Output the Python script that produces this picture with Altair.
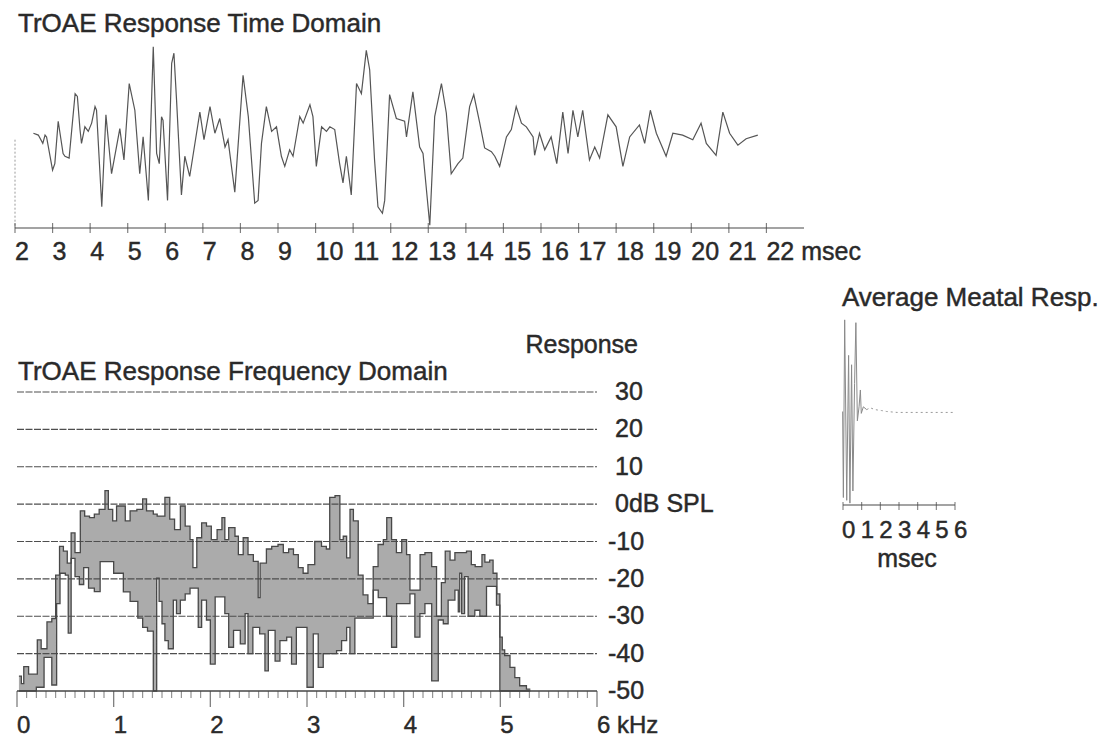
import altair as alt
import pandas as pd

FONT = "Liberation Sans"
INK = "#2a2a2a"
LINE = "#484848"

# ---- TrOAE response, time domain (ms, normalised amplitude) ----
time_ms = [2.49, 2.62, 2.74, 2.80, 2.84, 3.00, 3.06, 3.15, 3.28, 3.33, 3.44, 3.60, 3.66, 3.73,
           3.77, 3.86, 3.95, 4.04, 4.13, 4.17, 4.31, 4.42, 4.57, 4.79, 4.90, 5.04, 5.19, 5.32,
           5.41, 5.55, 5.68, 5.77, 5.84, 5.90, 5.94, 6.06, 6.17, 6.23, 6.30, 6.43, 6.52, 6.65,
           6.92, 7.03, 7.19, 7.32, 7.45, 7.59, 7.67, 7.85, 8.07, 8.21, 8.38, 8.47, 8.56, 8.69,
           8.83, 8.96, 9.09, 9.18, 9.31, 9.40, 9.58, 9.67, 9.85, 9.93, 10.02, 10.16, 10.29,
           10.38, 10.51, 10.64, 10.73, 10.82, 10.95, 11.09, 11.22, 11.35, 11.44, 11.57, 11.66,
           11.78, 11.84, 11.97, 12.15, 12.37, 12.42, 12.59, 12.77, 12.86, 13.04, 13.17, 13.35,
           13.48, 13.61, 13.79, 13.92, 14.10, 14.21, 14.37, 14.50, 14.68, 14.77, 14.90, 15.08,
           15.21, 15.34, 15.48, 15.61, 15.79, 15.83, 15.96, 16.10, 16.27, 16.42, 16.58, 16.72,
           16.85, 16.98, 17.11, 17.29, 17.43, 17.56, 17.78, 18.00, 18.18, 18.36, 18.62, 18.76,
           18.91, 19.07, 19.33, 19.51, 19.77, 20.04, 20.26, 20.40, 20.66, 20.84, 21.02, 21.24,
           21.46, 21.77]
time_amp = [0.03, 0.01, -0.08, 0.01, -0.01, -0.37, -0.30, 0.16, -0.19, -0.22, -0.24, 0.46, 0.43,
            0.07, -0.08, 0.10, 0.05, 0.14, 0.32, 0.28, -0.77, 0.23, -0.41, 0.08, -0.26, 0.57,
            0.28, -0.41, -0.01, -0.70, 0.97, -0.19, -0.30, 0.21, 0.17, -0.70, 0.79, 0.90, 0.39,
            -0.64, -0.22, -0.44, 0.26, -0.04, 0.32, 0.03, 0.19, -0.12, -0.04, -0.61, 0.66, 0.21,
            -0.73, -0.70, -0.08, 0.32, 0.05, 0.10, -0.22, -0.33, -0.15, -0.22, 0.21, 0.14, 0.34,
            0.21, -0.33, 0.10, 0.05, 0.10, 0.07, -0.30, -0.51, -0.22, -0.64, 0.57, 0.46, 0.93,
            0.72, -0.26, -0.77, -0.84, -0.70, 0.45, 0.19, 0.16, -0.01, 0.48, -0.12, -0.19, -0.97,
            0.21, 0.57, 0.25, -0.41, -0.30, -0.24, 0.32, 0.45, 0.14, -0.13, -0.17, -0.22, -0.33,
            -0.01, 0.07, 0.32, 0.14, 0.10, -0.01, -0.21, 0.03, -0.15, -0.01, -0.30, 0.26, -0.19,
            0.28, -0.01, 0.28, -0.26, -0.12, -0.24, 0.23, 0.10, -0.33, -0.01, 0.12, -0.08, 0.28,
            0.03, -0.22, 0.03, 0.01, -0.04, 0.14, -0.08, -0.21, 0.26, 0.03, -0.10, -0.03, 0.01]
time_ticks = list(range(2, 23))

# ---- TrOAE response, frequency domain: stepped envelopes (kHz, dB SPL) ----
upper_steps = [(0.02, -46), (0.045, -48), (0.07, -43.5), (0.12, -45.5), (0.21, -36.3),
               (0.25, -38.7), (0.31, -31.5), (0.36, -30.6), (0.40, -19), (0.44, -11.3),
               (0.48, -12.6), (0.52, -15.8), (0.56, -7.7), (0.60, -13), (0.655, -1.8),
               (0.70, -3.2), (0.75, -3.6), (0.80, -2.7), (0.85, -1.4), (0.91, 3.6),
               (0.945, -1.4), (0.99, -4.5), (1.03, -0.5), (1.12, -4.5), (1.17, -1.8),
               (1.24, -1.4), (1.30, 1.4), (1.34, -1.8), (1.41, -2.7), (1.45, -3.2),
               (1.53, 1.8), (1.58, -4), (1.63, -6.8), (1.69, -0.5), (1.74, -5.9), (1.79, -9.5),
               (1.82, -17), (1.86, -9), (1.91, -5), (1.96, -5.9), (2.01, -9.5), (2.07, -6.8),
               (2.12, -3.6), (2.15, -9.5), (2.19, -6.3), (2.255, -8.6), (2.29, -13.5),
               (2.34, -9), (2.39, -13.5), (2.445, -15.3), (2.495, -25), (2.515, -15.8),
               (2.58, -12), (2.635, -11.3), (2.70, -10.8), (2.755, -13), (2.81, -12),
               (2.86, -13.5), (2.91, -17), (2.96, -18.5), (3.01, -16.2), (3.08, -10),
               (3.15, -11.3), (3.20, -12), (3.235, 1.8), (3.29, 2.3), (3.34, -9.5),
               (3.375, -8.6), (3.41, -14.4), (3.445, -1.4), (3.48, -4.5), (3.53, -19),
               (3.58, -24.3), (3.63, -26.6), (3.685, -16.7), (3.735, -10.8), (3.79, -9.5),
               (3.825, -3.6), (3.875, -9.5), (3.925, -13), (3.98, -9.5), (4.03, -13.5),
               (4.065, -23), (4.17, -13.5), (4.22, -13), (4.29, -16.7), (4.34, -30),
               (4.39, -21), (4.43, -12.6), (4.48, -15), (4.53, -13), (4.65, -12.6),
               (4.70, -16.2), (4.74, -16.7), (4.81, -13.5), (4.84, -15.5), (4.89, -15),
               (4.925, -18.5), (4.965, -24), (4.995, -35.6), (5.02, -39), (5.045, -40.5),
               (5.10, -43.7), (5.15, -46.4), (5.20, -48.6), (5.27, -49.5), (5.31, -49.5)]
lower_steps = [(0.02, -50), (0.20, -49), (0.28, -41), (0.36, -48.4), (0.41, -26.6),
               (0.445, -18.5), (0.50, -19), (0.53, -34.5), (0.56, -14.5), (0.60, -19.4),
               (0.645, -21.5), (0.69, -17), (0.74, -22.5), (0.80, -23.4), (0.86, -15.4),
               (1.00, -18.5), (1.10, -23.5), (1.17, -26), (1.25, -30.5), (1.30, -33),
               (1.35, -34), (1.41, -50), (1.445, -19.8), (1.47, -26), (1.50, -32),
               (1.53, -36.5), (1.565, -38.7), (1.617, -25.7), (1.65, -29.3), (1.69, -25.7),
               (1.74, -24), (1.79, -22.5), (1.875, -33), (1.91, -25.7), (1.96, -31),
               (2.00, -42.8), (2.05, -24.8), (2.15, -29.3), (2.19, -38.3), (2.24, -33.8),
               (2.31, -37.4), (2.36, -29.3), (2.39, -40), (2.44, -33), (2.51, -34.7),
               (2.565, -44.6), (2.60, -33.8), (2.67, -42), (2.72, -36.5), (2.79, -35.6),
               (2.84, -42.8), (2.89, -33), (3.00, -49), (3.065, -34.7), (3.116, -43.7),
               (3.168, -40), (3.306, -39.2), (3.358, -36.5), (3.41, -33), (3.444, -40),
               (3.495, -30.5), (3.685, -23), (3.737, -25), (3.823, -30), (3.875, -38.3),
               (3.927, -26.6), (4.065, -24), (4.116, -35.6), (4.168, -29.3), (4.22, -26.6),
               (4.29, -47.3), (4.358, -31), (4.41, -32), (4.46, -25.7), (4.53, -23),
               (4.565, -28.8), (4.58, -18.5), (4.60, -29.3), (4.63, -19.4), (4.667, -30),
               (4.736, -28.4), (4.788, -30), (4.857, -22), (4.96, -27), (4.995, -50),
               (5.31, -50)]
freq_ticks = [0, 1, 2, 3, 4, 5, 6]
freq_labels = ["0", "1", "2", "3", "4", "5", "6 kHz"]
freq_minor_ticks = [round(k / 10, 1) for k in range(61) if k % 10]
db_grid = [30, 20, 10, 0, -10, -20, -30, -40]
db_pos_values = [30, 20, 10, 0]
db_pos_labels = ["30", "20", "10", "0dB SPL"]
db_neg_values = [-10, -20, -30, -40, -50]
db_neg_labels = ["-10", "-20", "-30", "-40", "-50"]

# ---- average meatal response (ms, normalised amplitude) ----
meatal_ms = [-0.02, 0.02, 0.09, 0.20, 0.30, 0.37, 0.46, 0.53, 0.62, 0.69, 0.77, 0.86, 0.93,
             0.98, 1.09, 1.27, 1.45, 1.72, 2.07, 2.34, 2.90, 3.60, 4.50, 5.20, 5.90]
meatal_amp = [0.0, -0.92, 0.98, -0.95, 0.60, -0.98, 0.50, -0.85, 0.30, 0.95, -0.10, 0.05, 0.23,
              -0.02, 0.05, 0.02, 0.04, 0.02, 0.01, 0.0, -0.01, -0.01, -0.01, -0.01, -0.01]
meatal_ticks = [0, 1, 2, 3, 4, 5, 6]


def qx(field, scale):
    return alt.X(field, type="quantitative", scale=scale, axis=None)


def qy(field, scale):
    return alt.Y(field, type="quantitative", scale=scale, axis=None)


def text_layer(df, scale_x, scale_y, size, **kw):
    # a thin outline in the ink colour gives the heavier printed look of the labels
    return alt.Chart(df).mark_text(font=FONT, fontSize=size, color=INK, stroke=INK,
                                   strokeWidth=0.45, **kw).encode(
        x=qx("x", scale_x), y=qy("y", scale_y), text="label:N")


# ================= time-domain panel =================
tx = alt.Scale(domain=[2, 23], range=[15, 804], nice=False, zero=False)
ty = alt.Scale(domain=[-1, 1], range=[228, 44], nice=False, zero=False)

wave = alt.Chart(pd.DataFrame({"x": time_ms, "y": time_amp})).mark_line(
    color="#555555", strokeWidth=1.2).encode(x=qx("x", tx), y=qy("y", ty))
t_axis = alt.Chart(pd.DataFrame({"x": [2], "x2": [23], "y": [-1]})).mark_rule(
    color=LINE, strokeWidth=1.2).encode(x=qx("x", tx), x2="x2", y=qy("y", ty))
t_stub = alt.Chart(pd.DataFrame({"x": [2], "y": [-0.04], "y2": [-1]})).mark_rule(
    color="#9a9a9a", strokeWidth=1, strokeDash=[2, 2]).encode(x=qx("x", tx), y=qy("y", ty), y2="y2")
t_ticks = alt.Chart(pd.DataFrame({"x": time_ticks, "y": [-1] * len(time_ticks)})).mark_tick(
    orient="vertical", size=10, thickness=1.2, color=LINE).encode(x=qx("x", tx), y=qy("y", ty))
t_labels = text_layer(
    pd.DataFrame({"x": time_ticks, "y": [-1] * len(time_ticks),
                  "label": [str(t) for t in time_ticks[:-1]] + ["22 msec"]}),
    tx, ty, 25, align="left", baseline="alphabetic", dy=32)
t_title = text_layer(pd.DataFrame({"x": [2], "y": [1], "label": ["TrOAE Response Time Domain"]}),
                     tx, ty, 26, align="left", baseline="alphabetic", dx=3, dy=-12)

time_panel = alt.layer(wave, t_stub, t_axis, t_ticks, t_labels, t_title)

# ================= frequency-domain panel =================
fx = alt.Scale(domain=[0, 6], range=[17, 597], nice=False, zero=False)
fy = alt.Scale(domain=[-50, 30], range=[691, 392], nice=False, zero=False)

up_df = pd.DataFrame(upper_steps, columns=["x", "y"])
lo_df = pd.DataFrame(lower_steps, columns=["x", "y"])

up_fill = alt.Chart(up_df).mark_area(interpolate="step-after", color="#ababab", opacity=1).encode(
    x=qx("x", fx), y=qy("y", fy), y2=alt.datum(-50))
lo_fill = alt.Chart(lo_df).mark_area(interpolate="step-after", color="white", opacity=1).encode(
    x=qx("x", fx), y=qy("y", fy), y2=alt.datum(-50))
grid = alt.Chart(pd.DataFrame({"x": [0] * len(db_grid), "x2": [6] * len(db_grid), "y": db_grid})).mark_rule(
    color="#4e4e4e", strokeWidth=1.2, strokeDash=[7, 1.5]).encode(x=qx("x", fx), x2="x2", y=qy("y", fy))
up_line = alt.Chart(up_df).mark_line(interpolate="step-after", color=LINE, strokeWidth=1.3).encode(
    x=qx("x", fx), y=qy("y", fy))
lo_line = alt.Chart(lo_df).mark_line(interpolate="step-after", color=LINE, strokeWidth=1.3).encode(
    x=qx("x", fx), y=qy("y", fy))
f_axis = alt.Chart(pd.DataFrame({"x": [0], "x2": [6], "y": [-50]})).mark_rule(
    color="#444444", strokeWidth=1.4).encode(x=qx("x", fx), x2="x2", y=qy("y", fy))
f_major = alt.Chart(pd.DataFrame({"x": freq_ticks, "y": [-50] * len(freq_ticks)})).mark_tick(
    orient="vertical", size=16, thickness=1.3, color=LINE, yOffset=8).encode(x=qx("x", fx), y=qy("y", fy))
f_minor = alt.Chart(pd.DataFrame({"x": freq_minor_ticks, "y": [-50] * len(freq_minor_ticks)})).mark_tick(
    orient="vertical", size=7, thickness=1, color=LINE, yOffset=3.5).encode(x=qx("x", fx), y=qy("y", fy))
f_labels = text_layer(pd.DataFrame({"x": freq_ticks, "y": [-50] * len(freq_ticks), "label": freq_labels}),
                      fx, fy, 24, align="left", baseline="alphabetic", dy=42)
db_pos = text_layer(pd.DataFrame({"x": [6] * 4, "y": db_pos_values, "label": db_pos_labels}),
                    fx, fy, 25, align="left", baseline="middle", dx=18)
db_neg = text_layer(pd.DataFrame({"x": [6] * 5, "y": db_neg_values, "label": db_neg_labels}),
                    fx, fy, 25, align="left", baseline="middle", dx=11)
resp = text_layer(pd.DataFrame({"x": [6], "y": [30], "label": ["Response"]}),
                  fx, fy, 25, align="right", baseline="alphabetic", dx=41, dy=-39)
f_title = text_layer(pd.DataFrame({"x": [0], "y": [30], "label": ["TrOAE Response Frequency Domain"]}),
                     fx, fy, 26, align="left", baseline="alphabetic", dx=1, dy=-12)

freq_panel = alt.layer(up_fill, lo_fill, grid, up_line, lo_line, f_axis, f_major, f_minor,
                       f_labels, db_pos, db_neg, resp, f_title)

# ================= average meatal response panel =================
mx = alt.Scale(domain=[0, 6], range=[843, 955], nice=False, zero=False)
my = alt.Scale(domain=[-1, 1], range=[505, 318], nice=False, zero=False)

m_df = pd.DataFrame({"x": meatal_ms, "y": meatal_amp})
m_head = alt.Chart(m_df[m_df.x <= 1.3]).mark_line(color="#8a8a8a", strokeWidth=1).encode(
    x=qx("x", mx), y=qy("y", my))
m_tail = alt.Chart(m_df[m_df.x >= 1.27]).mark_line(color="#9a9a9a", strokeWidth=1, strokeDash=[2, 3]).encode(
    x=qx("x", mx), y=qy("y", my))
m_axis = alt.Chart(pd.DataFrame({"x": [0], "x2": [6], "y": [-1]})).mark_rule(
    color=LINE, strokeWidth=1.2).encode(x=qx("x", mx), x2="x2", y=qy("y", my))
m_ticks = alt.Chart(pd.DataFrame({"x": meatal_ticks, "y": [-1] * len(meatal_ticks)})).mark_tick(
    orient="vertical", size=8, thickness=1.1, color=LINE, yOffset=1).encode(x=qx("x", mx), y=qy("y", my))
m_labels = text_layer(pd.DataFrame({"x": meatal_ticks, "y": [-1] * len(meatal_ticks),
                                    "label": [str(t) for t in meatal_ticks]}),
                      mx, my, 24, align="left", baseline="alphabetic", dx=-1, dy=33)
m_unit = text_layer(pd.DataFrame({"x": [3], "y": [-1], "label": ["msec"]}),
                    mx, my, 25, align="center", baseline="alphabetic", dx=8, dy=62)
m_title = text_layer(pd.DataFrame({"x": [0], "y": [1], "label": ["Average Meatal Resp."]}),
                     mx, my, 26, align="left", baseline="alphabetic", dx=-1, dy=-12)

meatal_panel = alt.layer(m_head, m_tail, m_axis, m_ticks, m_labels, m_unit, m_title)

chart = alt.layer(time_panel, freq_panel, meatal_panel).resolve_scale(
    x="independent", y="independent"
).properties(
    width=1103, height=738, padding=0, autosize=alt.AutoSizeParams(type="none"),
    background="white"
).configure_view(stroke=None)

chart.save("out.html", embed_options={"renderer": "svg", "actions": False})
